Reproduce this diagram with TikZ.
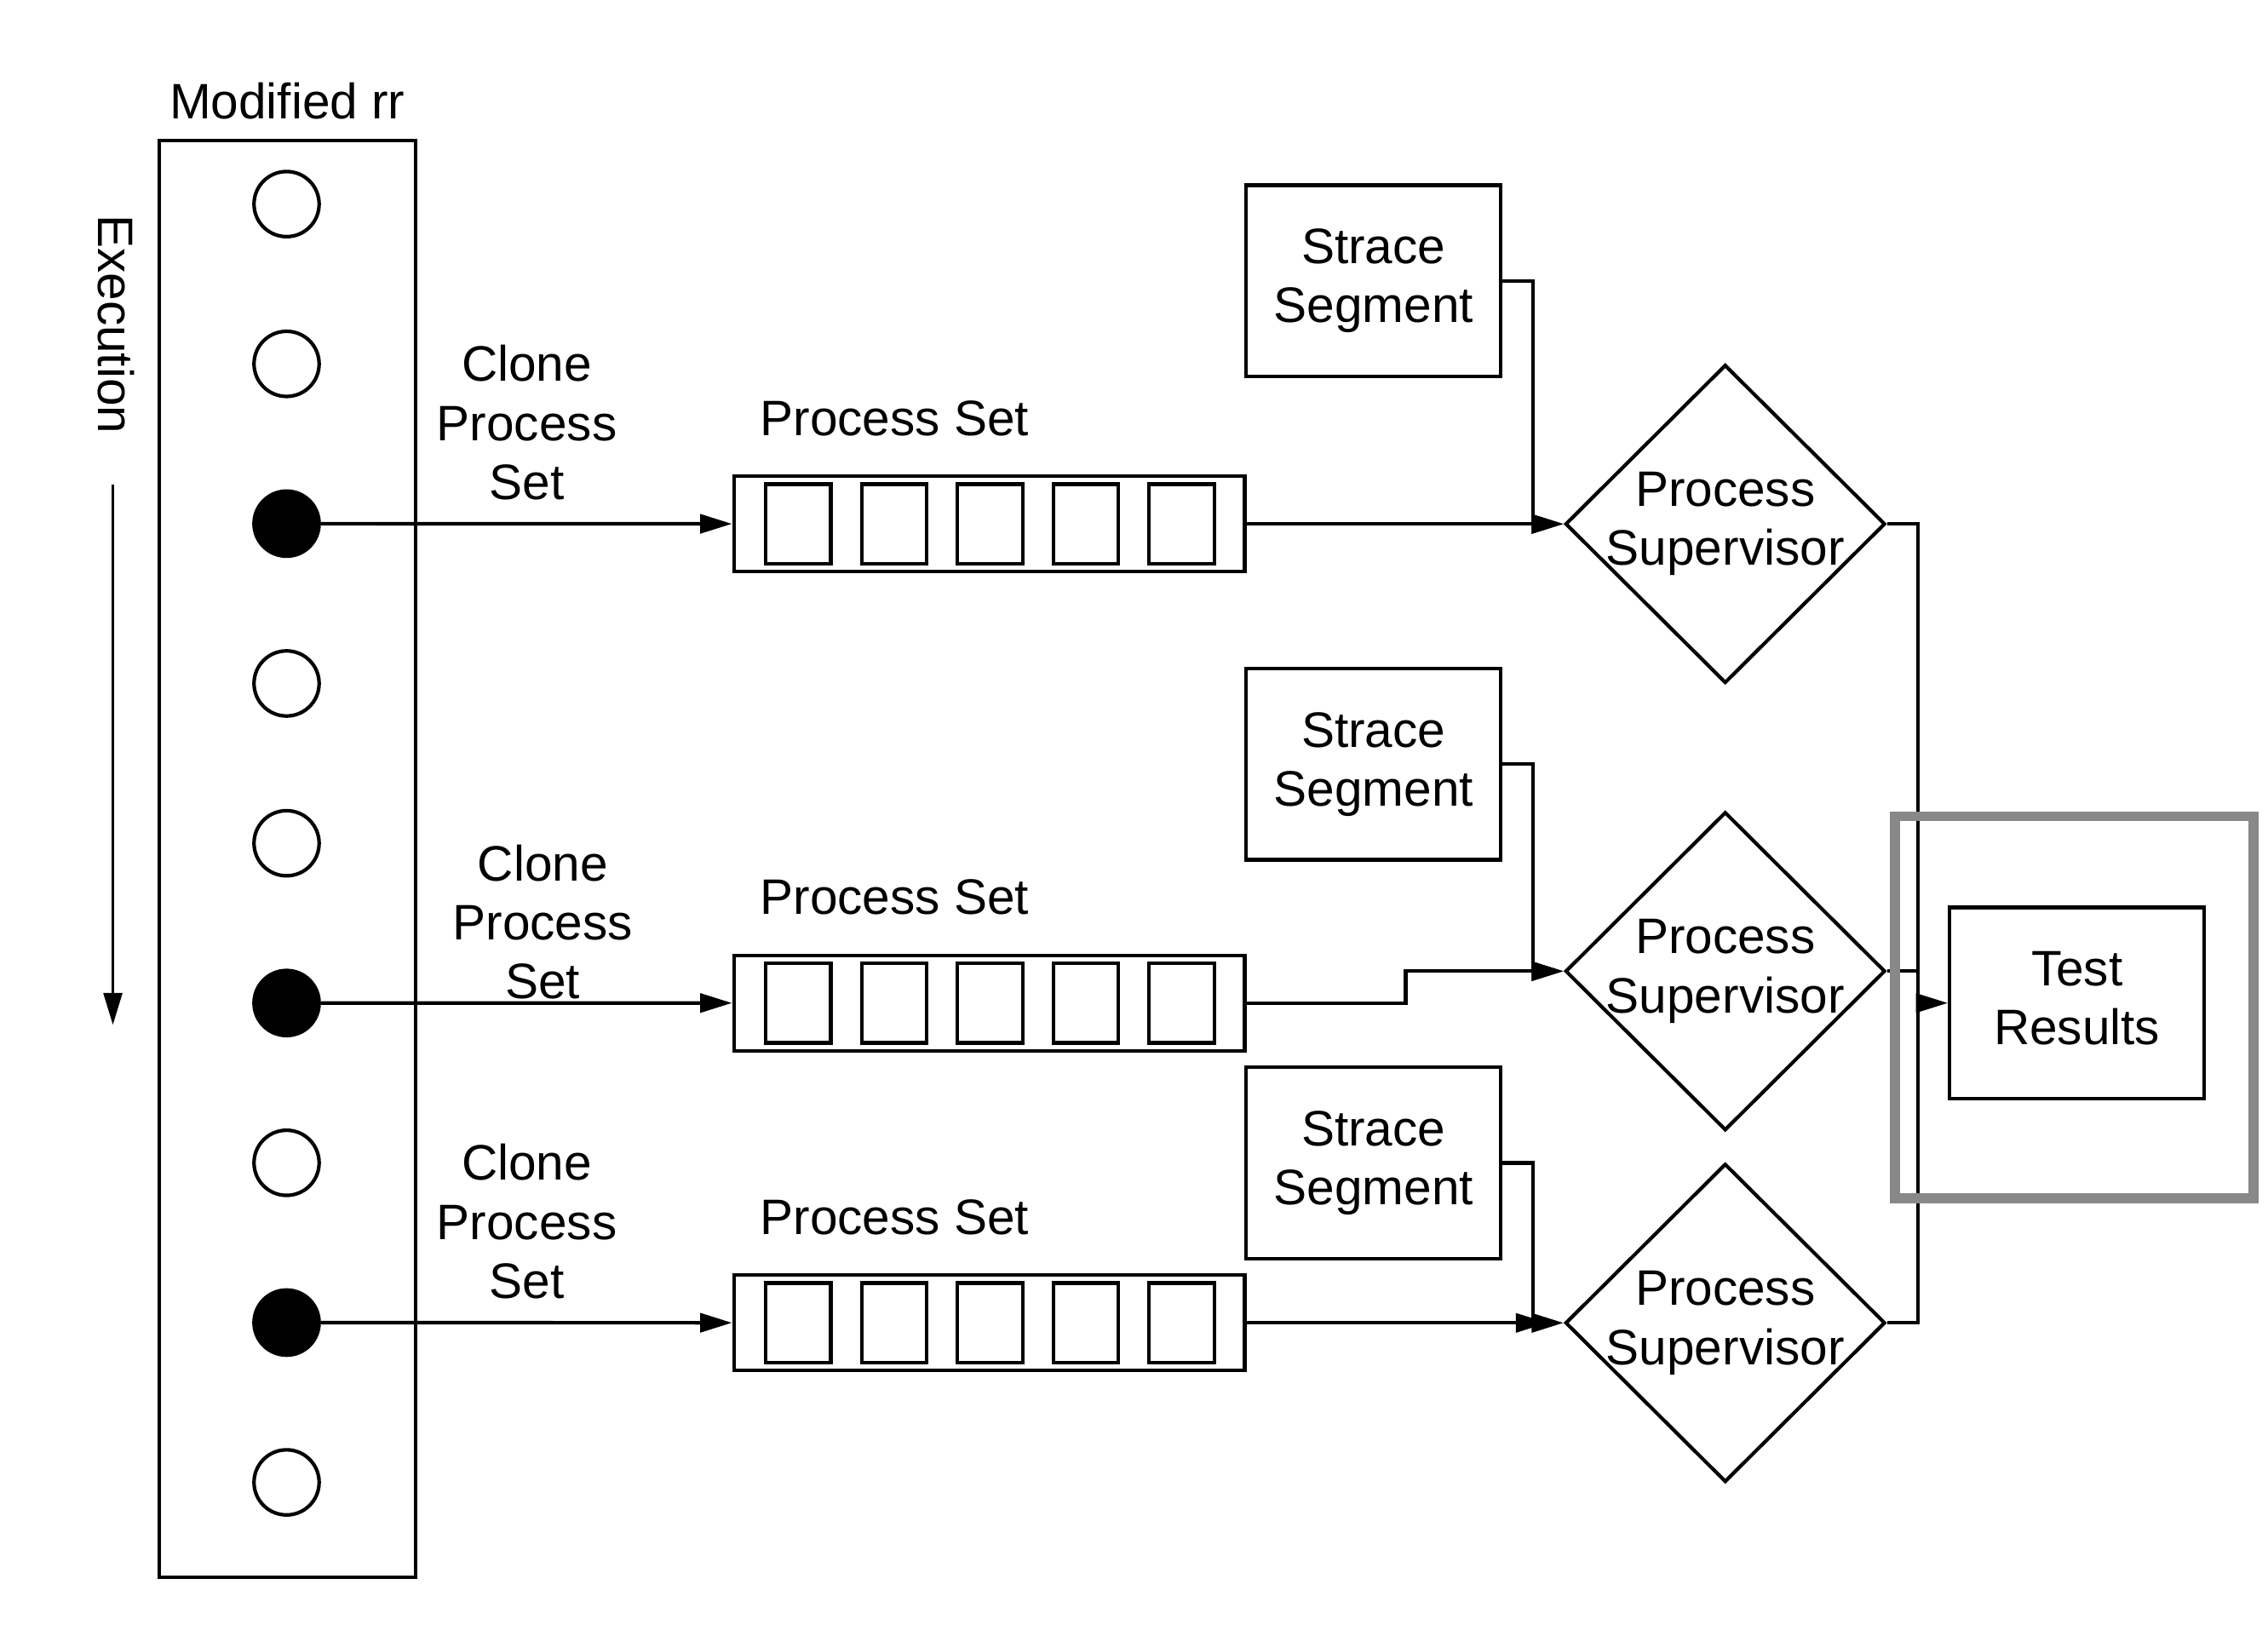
\documentclass[tikz,border=0pt]{standalone}
\usepackage{fontspec}
\setmainfont{Liberation Sans}
\usepackage{tikz}
\usetikzlibrary{shapes.geometric}
\usetikzlibrary{arrows.meta}
\usetikzlibrary{positioning}

\begin{document}
\begin{tikzpicture}[
  font=\fontsize{9.8}{11.6}\selectfont,
  line width=0.7pt,
  caja/.style={draw, rectangle, minimum width=1.76cm, minimum height=1.32cm, align=center, inner sep=0pt},
  punto/.style={draw, circle, minimum size=0.45cm, inner sep=0pt},
  lleno/.style={punto, fill=black},
  celda/.style={draw, rectangle, minimum width=0.45cm, minimum height=0.55cm, inner sep=0pt},
  conjunto/.style={draw, rectangle, minimum width=3.53cm, minimum height=0.66cm, inner sep=0pt},
  rombo/.style={draw, diamond, minimum width=2.21cm, minimum height=2.20cm, inner sep=0pt},
  flecha/.style={-{Triangle[length=0.22cm,width=0.13cm]}},
  texto/.style={align=center, inner sep=0pt}
]
  \useasboundingbox (0,0) rectangle (15.67,-11.34);

  % Columna de rr
  \node[draw, rectangle, minimum width=1.77cm, minimum height=9.93cm, inner sep=0pt] (rr) at (1.985,-5.935) {};
  \node[above=0.12cm of rr, inner sep=0pt] (rrlabel) {Modified rr};

  % Puntos de ejecucion
  \foreach \i in {1,2,4,5,7,9}
    \node[punto] (c\i) at (1.98,{-1.41-1.104*(\i-1)}) {};
  \foreach \i in {3,6,8}
    \node[lleno] (c\i) at (1.98,{-1.41-1.104*(\i-1)}) {};

  % Flecha de ejecucion
  \node[rotate=-90, inner sep=0pt] (exe) at (0.80,-2.24) {Execution};
  \coordinate (e1) at (0.78,-3.35);
  \coordinate (e2) at (0.78,-7.08);
  \draw[flecha, line width=0.45pt] (e1) -- (e2);

  % Conjuntos de procesos
  \foreach \k/\y in {1/3.62, 2/6.93, 3/9.14} {
    \node[conjunto] (ps\k) at (6.835,-\y) {};
    \foreach \i in {1,...,5}
      \node[celda] (ps\k c\i) at ({5.515+0.6625*(\i-1)},-\y) {};
    \node[inner sep=0pt] (psl\k) at (6.18,{-\y+0.73}) {Process Set};
  }

  % Etiquetas de clonado
  \node[texto] (cl1) at (3.64,-2.92) {Clone\\Process\\Set};
  \node[texto] (cl2) at (3.75,-6.37) {Clone\\Process\\Set};
  \node[texto] (cl3) at (3.64,-8.44) {Clone\\Process\\Set};

  % Segmentos de strace
  \node[caja] (st1) at (9.49,-1.94) {Strace\\Segment};
  \node[caja] (st2) at (9.49,-5.28) {Strace\\Segment};
  \node[caja] (st3) at (9.49,-8.035) {Strace\\Segment};

  % Supervisores
  \node[rombo, label={[texto]center:Process\\Supervisor}] (sup1) at (11.92,-3.62) {};
  \node[rombo, label={[texto]center:Process\\Supervisor}] (sup2) at (11.92,-6.71) {};
  \node[rombo, label={[texto]center:Process\\Supervisor}] (sup3) at (11.92,-9.14) {};

  % Resultados
  \node[caja] (res) at (14.35,-6.93) {Test\\Results\vphantom{g}};
  \coordinate (bus) at (13.25,0);

  % Conexiones
  \draw[flecha] (c3) -- (ps1);
  \draw[flecha] (c6) -- (ps2);
  \draw[flecha] (c8) -- (ps3);

  \draw[flecha] (ps1.east) -- (sup1.west);
  \draw[flecha] (ps2.east) -- ++(1.1,0) |- (sup2.west);
  \draw[flecha] (ps3.east) -- ([xshift=-0.11cm]sup3.west);

  \draw[flecha] (st1.east) -- ++(0.21,0) |- (sup1.west);
  \draw[flecha] (st2.east) -- ++(0.21,0) |- (sup2.west);
  \draw[flecha] (st3.east) -- ++(0.21,0) |- (sup3.west);

  \draw (sup1.east) -- (sup1.east -| bus) -- (sup3.east -| bus) -- (sup3.east);
  \draw (sup2.east) -- (sup2.east -| bus);
  \draw[flecha] (res.west -| bus) -- (res.west);

  % Marco gris
  \draw[line width=2pt, color={rgb,255:red,136;green,136;blue,136}] (13.09,-5.64) rectangle (15.57,-8.28);
\end{tikzpicture}
\end{document}
